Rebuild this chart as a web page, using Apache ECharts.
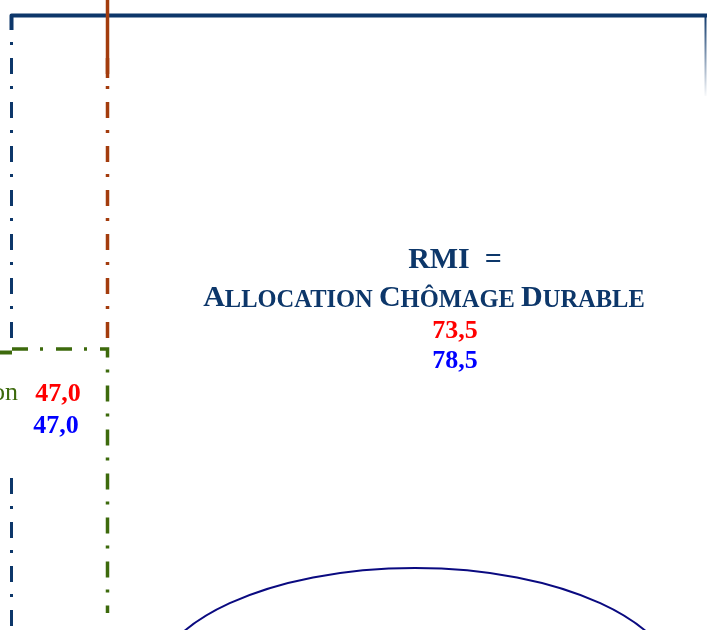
<!DOCTYPE html>
<html>
<head>
<meta charset="utf-8">
<script src="https://cdn.jsdelivr.net/npm/echarts@6/dist/echarts.min.js"></script>
<style>
  html, body { margin: 0; padding: 0; background: #fff; }
  #chart { width: 707px; height: 630px; }
</style>
</head>
<body>
<div id="chart"></div>
<script>
// values shown in the diagram (red = first figure, blue = second)
var labels = ['on', 'RMI'];
var redValues = [47.0, 73.5];
var blueValues = [47.0, 78.5];

var NAVY = '#0d376a';
var GREEN = '#3d6a0c';
var BROWN = '#a33c0d';
var DASHDOT = [16, 12, 3, 13];
var SERIF = '"Liberation Serif", "DejaVu Serif", serif';

function fr(v) {
    return v.toFixed(1).replace('.', ',');
}

function txt(x, y, text, color, size, weight, align) {
    return {
        type: 'text',
        x: x, y: y,
        style: {
            text: text,
            fill: color,
            font: (weight || 'bold') + ' ' + size + 'px ' + SERIF,
            textAlign: align || 'center',
            textVerticalAlign: 'middle'
        }
    };
}

function seg(x1, y1, x2, y2, color, w, dash) {
    return {
        type: 'line',
        shape: { x1: x1, y1: y1, x2: x2, y2: y2 },
        style: { stroke: color, lineWidth: w, lineDash: dash || null, lineCap: 'butt' }
    };
}

var chart = echarts.init(document.getElementById('chart'));
chart.setOption({
    backgroundColor: '#fff',
    graphic: [
        // navy frame
        {
            type: 'polyline',
            shape: { points: [[11.5, 30], [11.5, 15.5], [707, 15.5]] },
            style: { stroke: NAVY, lineWidth: 4, fill: null, lineJoin: 'round' }
        },
        seg(11.5, 14, 11.5, 338, NAVY, 3, DASHDOT),
        seg(11.5, 478, 11.5, 630, NAVY, 3, DASHDOT),
        {
            type: 'line',
            shape: { x1: 705.5, y1: 17, x2: 705.5, y2: 96 },
            style: {
                lineWidth: 2,
                stroke: new echarts.graphic.LinearGradient(0, 0, 0, 1, [
                    { offset: 0, color: NAVY },
                    { offset: 1, color: 'rgba(13,55,106,0)' }
                ])
            }
        },
        // brown line
        seg(107.5, 0, 107.5, 78, BROWN, 3.5),
        seg(107.5, 58, 107.5, 338, BROWN, 3.5, DASHDOT),
        // green box
        seg(0, 352.5, 12, 352.5, GREEN, 4),
        {
            type: 'polyline',
            shape: { points: [[12, 349], [107.5, 349], [107.5, 613]] },
            style: { stroke: GREEN, lineWidth: 3.5, fill: null, lineDash: DASHDOT, lineCap: 'butt' }
        },
        txt(18, 393, labels[0], GREEN, 26, 'normal', 'right'),
        txt(58, 394, fr(redValues[0]), '#ff0000', 26),
        txt(56, 426, fr(blueValues[0]), '#0000ff', 26),
        // centre block
        txt(455, 260, labels[1] + '  =', NAVY, 30),
        {
            type: 'text',
            x: 424, y: 298,
            style: {
                text: '{b|A}{s|LLOCATION }{b|C}{s|HÔMAGE }{b|D}{s|URABLE}',
                textAlign: 'center',
                textVerticalAlign: 'middle',
                rich: {
                    b: { fill: NAVY, font: 'bold 30px ' + SERIF, verticalAlign: 'bottom' },
                    s: { fill: NAVY, font: 'bold 24.5px ' + SERIF, verticalAlign: 'bottom' }
                }
            }
        },
        txt(455, 331, fr(redValues[1]), '#ff0000', 26),
        txt(455, 361, fr(blueValues[1]), '#0000ff', 26),
        // ellipse
        {
            type: 'ellipse',
            shape: { cx: 415, cy: 688, rx: 262, ry: 120 },
            style: { stroke: '#0a0a80', lineWidth: 2, fill: null }
        }
    ]
});
</script>
</body>
</html>
